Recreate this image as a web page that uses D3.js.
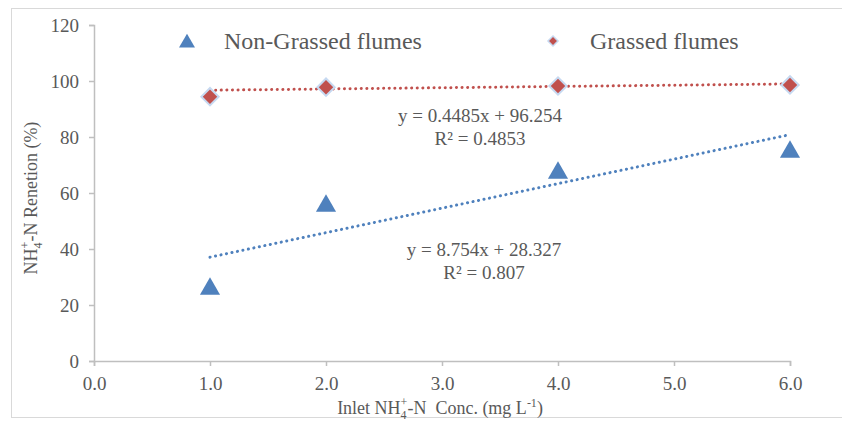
<!DOCTYPE html>
<html>
<head>
<meta charset="utf-8">
<script src="https://cdn.jsdelivr.net/npm/d3@7"></script>
<style>
body { margin:0; background:#fff; }
svg text { font-family: "Liberation Serif", "Times New Roman", serif; fill:#595959; }
</style>
</head>
<body>
<div id="vis"></div>
<script>
// data
var conc = [1, 2, 4, 6];
var nonGrassed = [26.8, 56.4, 68.2, 75.7];
var grassed = [94.4, 97.8, 98.2, 98.6];
var xTicks = [0, 1, 2, 3, 4, 5, 6];
var yTicks = [0, 20, 40, 60, 80, 100, 120];
var fitNon = {slope: 8.754, icpt: 28.327, eq: "y = 8.754x + 28.327", r2: "R² = 0.807"};
var fitGr = {slope: 0.4485, icpt: 96.254, eq: "y = 0.4485x + 96.254", r2: "R² = 0.4853"};

var w = 842, h = 425;
var blue = "#4F81BD", red = "#C0504D";

var svg = d3.select("#vis").append("svg")
  .attr("width", w).attr("height", h);

// chart frame
svg.append("rect").attr("x", 11.5).attr("y", 8.5).attr("width", 840).attr("height", 409)
  .attr("fill", "none").attr("stroke", "#d9d9d9");

const x = d3.scaleLinear().domain([0, 6]).range([94, 790]);
const y = d3.scaleLinear().domain([0, 120]).range([361, 25]);

const xAxis = svg.append("g").attr("transform", "translate(0,361)")
  .call(d3.axisBottom(x).tickValues(xTicks).tickFormat(d3.format(".1f")).tickSize(5).tickPadding(8));
const yAxis = svg.append("g").attr("transform", "translate(94,0)")
  .call(d3.axisLeft(y).tickValues(yTicks).tickSize(5).tickPadding(10));
[xAxis, yAxis].forEach(a => {
  a.attr("font-family", null);
  a.selectAll("path, line").attr("stroke", "#bfbfbf").attr("stroke-width", 1.5);
  a.selectAll("text").style("font-size", "19px").attr("fill", "#595959");
});
xAxis.selectAll("text").attr("dy", "0.85em");

// trendlines
function trend(fit, col) {
  svg.append("line")
    .attr("x1", x(1)).attr("y1", y(fit.slope * 1 + fit.icpt))
    .attr("x2", x(6)).attr("y2", y(fit.slope * 6 + fit.icpt))
    .attr("stroke", col).attr("stroke-width", 3)
    .attr("stroke-linecap", "round").attr("stroke-dasharray", "0.1 5.5");
}
trend(fitGr, red);
trend(fitNon, blue);

var tri = d3.symbol().type(d3.symbolTriangle).size(175);
var dia = d3.symbol().type(d3.symbolSquare).size(150);

svg.selectAll(".tri").data(conc).enter().append("path")
  .attr("d", tri)
  .attr("transform", (d, i) => `translate(${x(d)},${y(nonGrassed[i]) + 2.9})`)
  .attr("fill", blue);

svg.selectAll(".dia").data(conc).enter().append("path")
  .attr("d", dia)
  .attr("transform", (d, i) => `translate(${x(d)},${y(grassed[i])}) rotate(45)`)
  .attr("fill", red).attr("stroke", "#c6d9f1").attr("stroke-width", 2);

// legend
svg.append("path").attr("d", d3.symbol().type(d3.symbolTriangle).size(110))
  .attr("transform", "translate(187,43)").attr("fill", blue);
svg.append("text").attr("x", 224).attr("y", 49).style("font-size", "24px").text("Non-Grassed flumes");
svg.append("path").attr("d", d3.symbol().type(d3.symbolSquare).size(50))
  .attr("transform", "translate(553,41) rotate(45)").attr("fill", red)
  .attr("stroke", "#c6d9f1").attr("stroke-width", 1.5);
svg.append("text").attr("x", 590).attr("y", 49).style("font-size", "24px").text("Grassed flumes");

// equations
function eqn(fit, cx, cy) {
  svg.append("text").attr("x", cx).attr("y", cy).attr("text-anchor", "middle")
    .style("font-size", "19px").text(fit.eq);
  svg.append("text").attr("x", cx).attr("y", cy + 23).attr("text-anchor", "middle")
    .style("font-size", "19px").text(fit.r2);
}
eqn(fitGr, 480, 122);
eqn(fitNon, 484, 256);

// axis titles
var xt = svg.append("text").attr("x", 440).attr("y", 414).attr("text-anchor", "middle")
  .style("font-size", "18px");
xt.append("tspan").text("Inlet NH");
xt.append("tspan").attr("dy", 5).style("font-size", "12px").text("4");
xt.append("tspan").attr("dy", -13).attr("dx", -6).style("font-size", "12px").text("+");
xt.append("tspan").attr("dy", 8).attr("xml:space", "preserve").text("-N  Conc. (mg L");
xt.append("tspan").attr("dy", -7).style("font-size", "12px").text("-1");
xt.append("tspan").attr("dy", 7).text(")");

var yt = svg.append("text").attr("transform", "translate(37,198) rotate(-90)")
  .attr("text-anchor", "middle").style("font-size", "18px");
yt.append("tspan").text("NH");
yt.append("tspan").attr("dy", 5).style("font-size", "12px").text("4");
yt.append("tspan").attr("dy", -13).attr("dx", -6).style("font-size", "12px").text("+");
yt.append("tspan").attr("dy", 8).text("-N Renetion (%)");
</script>
</body>
</html>
